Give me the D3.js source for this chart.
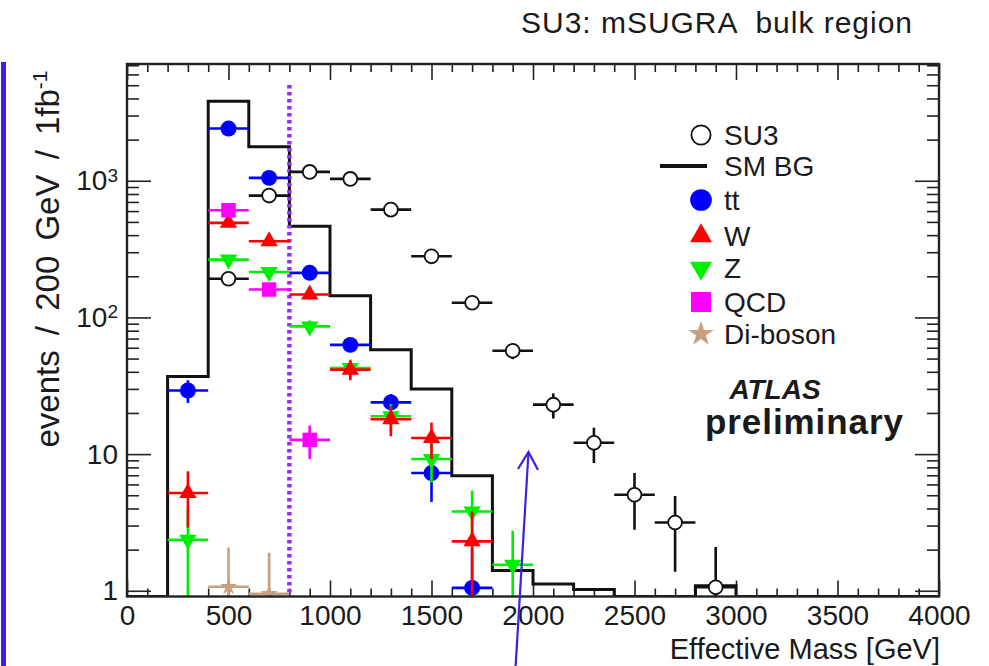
<!DOCTYPE html>
<html lang="en">
<head>
<meta charset="UTF-8" />
<title>SU3: mSUGRA bulk region - effective mass</title>
<script src="https://d3js.org/d3.v7.min.js"></script>
<style>
  body { margin: 0; background: #fff; font-family: "Liberation Sans", Arial, sans-serif; }
  svg text { fill: #1a1a1a; }
</style>
</head>
<body>
<svg width="989" height="666"></svg>
<script>
// SM background histogram, 200 GeV bins from 0 to 4000 GeV
const binWidth = 200;
const smBG = [0, 37, 3820, 1770, 464, 144, 58, 30, 6.95, 1.41,
              1.12, 1.02, 0, 0, 1.09, 0, 0, 0, 0, 0];

// point series: bin centres, values, errors
const su3Mass = [500, 700, 900, 1100, 1300, 1500, 1700, 1900, 2100, 2300, 2500, 2700, 2900];
const su3Val  = [192, 779, 1161, 1032, 615, 280, 128, 57, 23, 12.1, 5.04, 3.16, 1.06];
const su3Err  = [13.9, 27.9, 34, 32, 24.8, 16.7, 11.3, 7.5, 4.8, 3.5, 2.24, 1.78, 1.03];

const ttMass = [300, 500, 700, 900, 1100, 1300, 1500, 1700];
const ttVal  = [29.2, 2410, 1050, 212, 63, 23.9, 7.27, 1.05];
const ttErr  = [5.5, 30, 20, 9, 4.5, 3.6, 2.8, 1.0];

const wMass = [300, 500, 700, 900, 1100, 1300, 1500, 1700];
const wVal  = [5.19, 492, 361, 147, 41.5, 18, 13.1, 2.3];
const wErr  = [2.3, 22, 19, 12, 6.8, 4.5, 3.9, 1.5];

const zMass = [300, 500, 700, 900, 1100, 1300, 1500, 1700, 1900];
const zVal  = [2.36, 265, 215, 86, 42.7, 18.9, 9.2, 3.8, 1.55];
const zErr  = [1.6, 16, 14.5, 9, 6.5, 4.3, 3, 1.6, 1.2];

const qcdMass = [500, 700, 900];
const qcdVal  = [608, 160, 12.7];
const qcdErr  = [24, 12, 3.5];

const dibMass = [500, 700];
const dibVal  = [1.07, 0.95];
const dibErr  = [1.0, 0.95];

const cutMass = 800;

const xMajor = [0, 500, 1000, 1500, 2000, 2500, 3000, 3500, 4000];
const yMajor = [1, 10, 100, 1000];

const svg = d3.select("svg");
const x = d3.scaleLinear().domain([0, 4000]).range([127, 939]);
const y = d3.scaleLog().domain([0.908, 7150]).range([596.5, 64]);
const yMin = y.domain()[0];
const yc = v => y(Math.max(v, yMin));

// title
svg.append("text")
  .attr("x", 521).attr("y", 33)
  .attr("font-size", 30)
  .attr("textLength", 391)
  .style("white-space", "pre")
  .text("SU3: mSUGRA  bulk region");

// minor ticks
const xMinor = d3.range(0, 4001, 100).filter(v => v % 500 !== 0);
const yMinor = [];
[1, 10, 100, 1000].forEach(d => { for (let k = 2; k <= 9; k++) if (d * k < 7150) yMinor.push(d * k); });

const tickStyle = g => {
  g.select(".domain").remove();
  g.selectAll(".tick line").attr("stroke", "#222").attr("stroke-width", 1.6);
  g.selectAll("text").attr("font-size", 28).attr("fill", "#1a1a1a")
    .attr("font-family", "'Liberation Sans', Arial, sans-serif");
};

const plotH = 596.5;
svg.append("g").attr("transform", `translate(0,${plotH})`)
  .call(d3.axisBottom(x).tickValues(xMajor).tickSize(-16).tickPadding(8.5).tickFormat(d3.format("d")))
  .call(tickStyle);
svg.append("g").attr("transform", `translate(0,${plotH})`)
  .call(d3.axisBottom(x).tickValues(xMinor).tickSize(-8).tickFormat(""))
  .call(tickStyle);
svg.append("g").attr("transform", "translate(0,64)")
  .call(d3.axisTop(x).tickValues(xMajor).tickSize(-16).tickFormat(""))
  .call(tickStyle);
svg.append("g").attr("transform", "translate(0,64)")
  .call(d3.axisTop(x).tickValues(xMinor).tickSize(-8).tickFormat(""))
  .call(tickStyle);

const yAx = svg.append("g").attr("transform", "translate(127,0)")
  .call(d3.axisLeft(y).tickValues(yMajor).tickSize(-24).tickPadding(9)
    .tickFormat(d => d >= 100 ? "10" : String(d)))
  .call(tickStyle);
yAx.selectAll(".tick text").each(function(d) {
  if (d >= 100) {
    d3.select(this).append("tspan")
      .attr("dy", "-0.45em").attr("font-size", 19)
      .text(String(Math.round(Math.log10(d))));
  }
});
svg.append("g").attr("transform", "translate(127,0)")
  .call(d3.axisLeft(y).tickValues(yMinor).tickSize(-12).tickFormat(""))
  .call(tickStyle);
svg.append("g").attr("transform", "translate(939,0)")
  .call(d3.axisRight(y).tickValues(yMajor).tickSize(-24).tickFormat(""))
  .call(tickStyle);
svg.append("g").attr("transform", "translate(939,0)")
  .call(d3.axisRight(y).tickValues(yMinor).tickSize(-12).tickFormat(""))
  .call(tickStyle);

// axis titles
svg.append("text")
  .attr("x", 940).attr("y", 659)
  .attr("text-anchor", "end")
  .attr("font-size", 29)
  .text("Effective Mass [GeV]");

const yl = svg.append("text")
  .attr("transform", "translate(59,259) rotate(-90)")
  .attr("text-anchor", "middle")
  .attr("font-size", 33)
  .style("word-spacing", "6px");
yl.append("tspan").text("events / 200 GeV / 1fb");
yl.append("tspan").attr("dy", "-0.55em").attr("font-size", 21).text("-1");

// plot area
const plot = svg.append("g");
svg.append("defs").append("clipPath").attr("id", "clip")
  .append("rect").attr("x", 127).attr("y", 64).attr("width", 812).attr("height", plotH - 64);

// SM BG histogram
let pts = [[x(0), plotH]];
smBG.forEach((v, i) => {
  const lo = i * binWidth, hi = lo + binWidth;
  const yy = v > 0 ? yc(v) : plotH;
  pts.push([x(lo), yy], [x(hi), yy]);
});
pts.push([x(4000), plotH]);
plot.append("path")
  .attr("clip-path", "url(#clip)")
  .attr("d", d3.line()(pts))
  .attr("fill", "none")
  .attr("stroke", "#111")
  .attr("stroke-width", 3);

// cut line
plot.append("line")
  .attr("x1", x(cutMass)).attr("x2", x(cutMass))
  .attr("y1", 85).attr("y2", plotH)
  .attr("stroke", "#9a2ef0")
  .attr("stroke-width", 4.5)
  .attr("stroke-dasharray", "3.5,3.5");

function drawSeries(mass, val, err, color, marker) {
  const g = plot.append("g").attr("clip-path", "url(#clip)");
  const data = mass.map((m, i) => ({ m, v: val[i], e: err[i] }));
  g.selectAll("line.h").data(data).join("line")
    .attr("x1", d => x(d.m - binWidth / 2)).attr("x2", d => x(d.m + binWidth / 2))
    .attr("y1", d => yc(d.v)).attr("y2", d => yc(d.v))
    .attr("stroke", marker.barColor || color).attr("stroke-width", 2.6);
  g.selectAll("line.v").data(data).join("line")
    .attr("x1", d => x(d.m)).attr("x2", d => x(d.m))
    .attr("y1", d => d.v - d.e > yMin ? y(d.v - d.e) : plotH + 2)
    .attr("y2", d => yc(d.v + d.e))
    .attr("stroke", marker.barColor || color).attr("stroke-width", 2.6);
  g.selectAll("path.m").data(data).join("path")
    .attr("transform", d => `translate(${x(d.m)},${yc(d.v)}) rotate(${marker.rot || 0})`)
    .attr("d", d3.symbol().type(marker.type).size(marker.size))
    .attr("fill", marker.fill || color)
    .attr("stroke", marker.stroke || "none")
    .attr("stroke-width", marker.sw || 0);
}

const mk = {
  tt:  { type: d3.symbolCircle, size: 200 },
  z:   { type: d3.symbolTriangle, size: 130, rot: 180 },
  w:   { type: d3.symbolTriangle, size: 130 },
  qcd: { type: d3.symbolSquare, size: 210 },
  dib: { type: d3.symbolStar, size: 90 },
  su3: { type: d3.symbolCircle, size: 150, fill: "#fff", stroke: "#111", sw: 1.8, barColor: "#111" }
};

drawSeries(ttMass, ttVal, ttErr, "#0000ff", mk.tt);
drawSeries(zMass, zVal, zErr, "#00ee00", mk.z);
drawSeries(wMass, wVal, wErr, "#ff0000", mk.w);
drawSeries(qcdMass, qcdVal, qcdErr, "#ff00ff", mk.qcd);
drawSeries(dibMass, dibVal, dibErr, "#c8a080", mk.dib);
drawSeries(su3Mass, su3Val, su3Err, "#111", mk.su3);

// frame
svg.append("rect")
  .attr("x", 127).attr("y", 64).attr("width", 812).attr("height", plotH - 64)
  .attr("fill", "none").attr("stroke", "#222").attr("stroke-width", 2.4);

// legend
const legend = [
  { label: "SU3", y: 135, m: { type: d3.symbolCircle, size: 290, fill: "#fff", stroke: "#111", sw: 1.8 } },
  { label: "SM BG", y: 166, line: true },
  { label: "tt", y: 200, color: "#0000ff", m: { type: d3.symbolCircle, size: 370 } },
  { label: "W", y: 236, color: "#ff0000", m: { type: d3.symbolTriangle, size: 210 } },
  { label: "Z", y: 268, color: "#00ee00", m: { type: d3.symbolTriangle, size: 210, rot: 180 } },
  { label: "QCD", y: 302, color: "#ff00ff", m: { type: d3.symbolSquare, size: 400 } },
  { label: "Di-boson", y: 334, color: "#c8a080", m: { type: d3.symbolStar, size: 200 } }
];
const lg = svg.append("g");
legend.forEach(d => {
  if (d.line) {
    lg.append("line").attr("x1", 660).attr("x2", 707).attr("y1", d.y).attr("y2", d.y)
      .attr("stroke", "#111").attr("stroke-width", 4);
  } else {
    lg.append("path")
      .attr("transform", `translate(701,${d.y}) rotate(${d.m.rot || 0})`)
      .attr("d", d3.symbol().type(d.m.type).size(d.m.size))
      .attr("fill", d.m.fill || d.color)
      .attr("stroke", d.m.stroke || "none")
      .attr("stroke-width", d.m.sw || 0);
  }
  lg.append("text").attr("x", 724).attr("y", d.y + 10)
    .attr("font-size", 28).attr("fill", "#1a1a1a").text(d.label);
});

svg.append("text").attr("x", 775).attr("y", 399)
  .attr("text-anchor", "middle").attr("font-size", 28)
  .attr("font-weight", "bold").attr("font-style", "italic")
  .text("ATLAS");
svg.append("text").attr("x", 705).attr("y", 434)
  .attr("font-size", 35).attr("font-weight", "bold")
  .attr("textLength", 198)
  .attr("fill", "#000")
  .text("preliminary");

// annotation: blue left bar and arrow
svg.append("line").attr("x1", 3.5).attr("x2", 3.5).attr("y1", 62).attr("y2", 666)
  .attr("stroke", "#3d1cf2").attr("stroke-width", 5);
svg.append("path")
  .attr("d", d3.line()([[515.5, 668], [528.5, 452]]))
  .attr("stroke", "#3a22e0").attr("stroke-width", 2.2).attr("fill", "none");
svg.append("path")
  .attr("d", d3.line()([[518, 469], [528.5, 452], [538, 470]]))
  .attr("stroke", "#3a22e0").attr("stroke-width", 2.2).attr("fill", "none");
</script>
</body>
</html>
